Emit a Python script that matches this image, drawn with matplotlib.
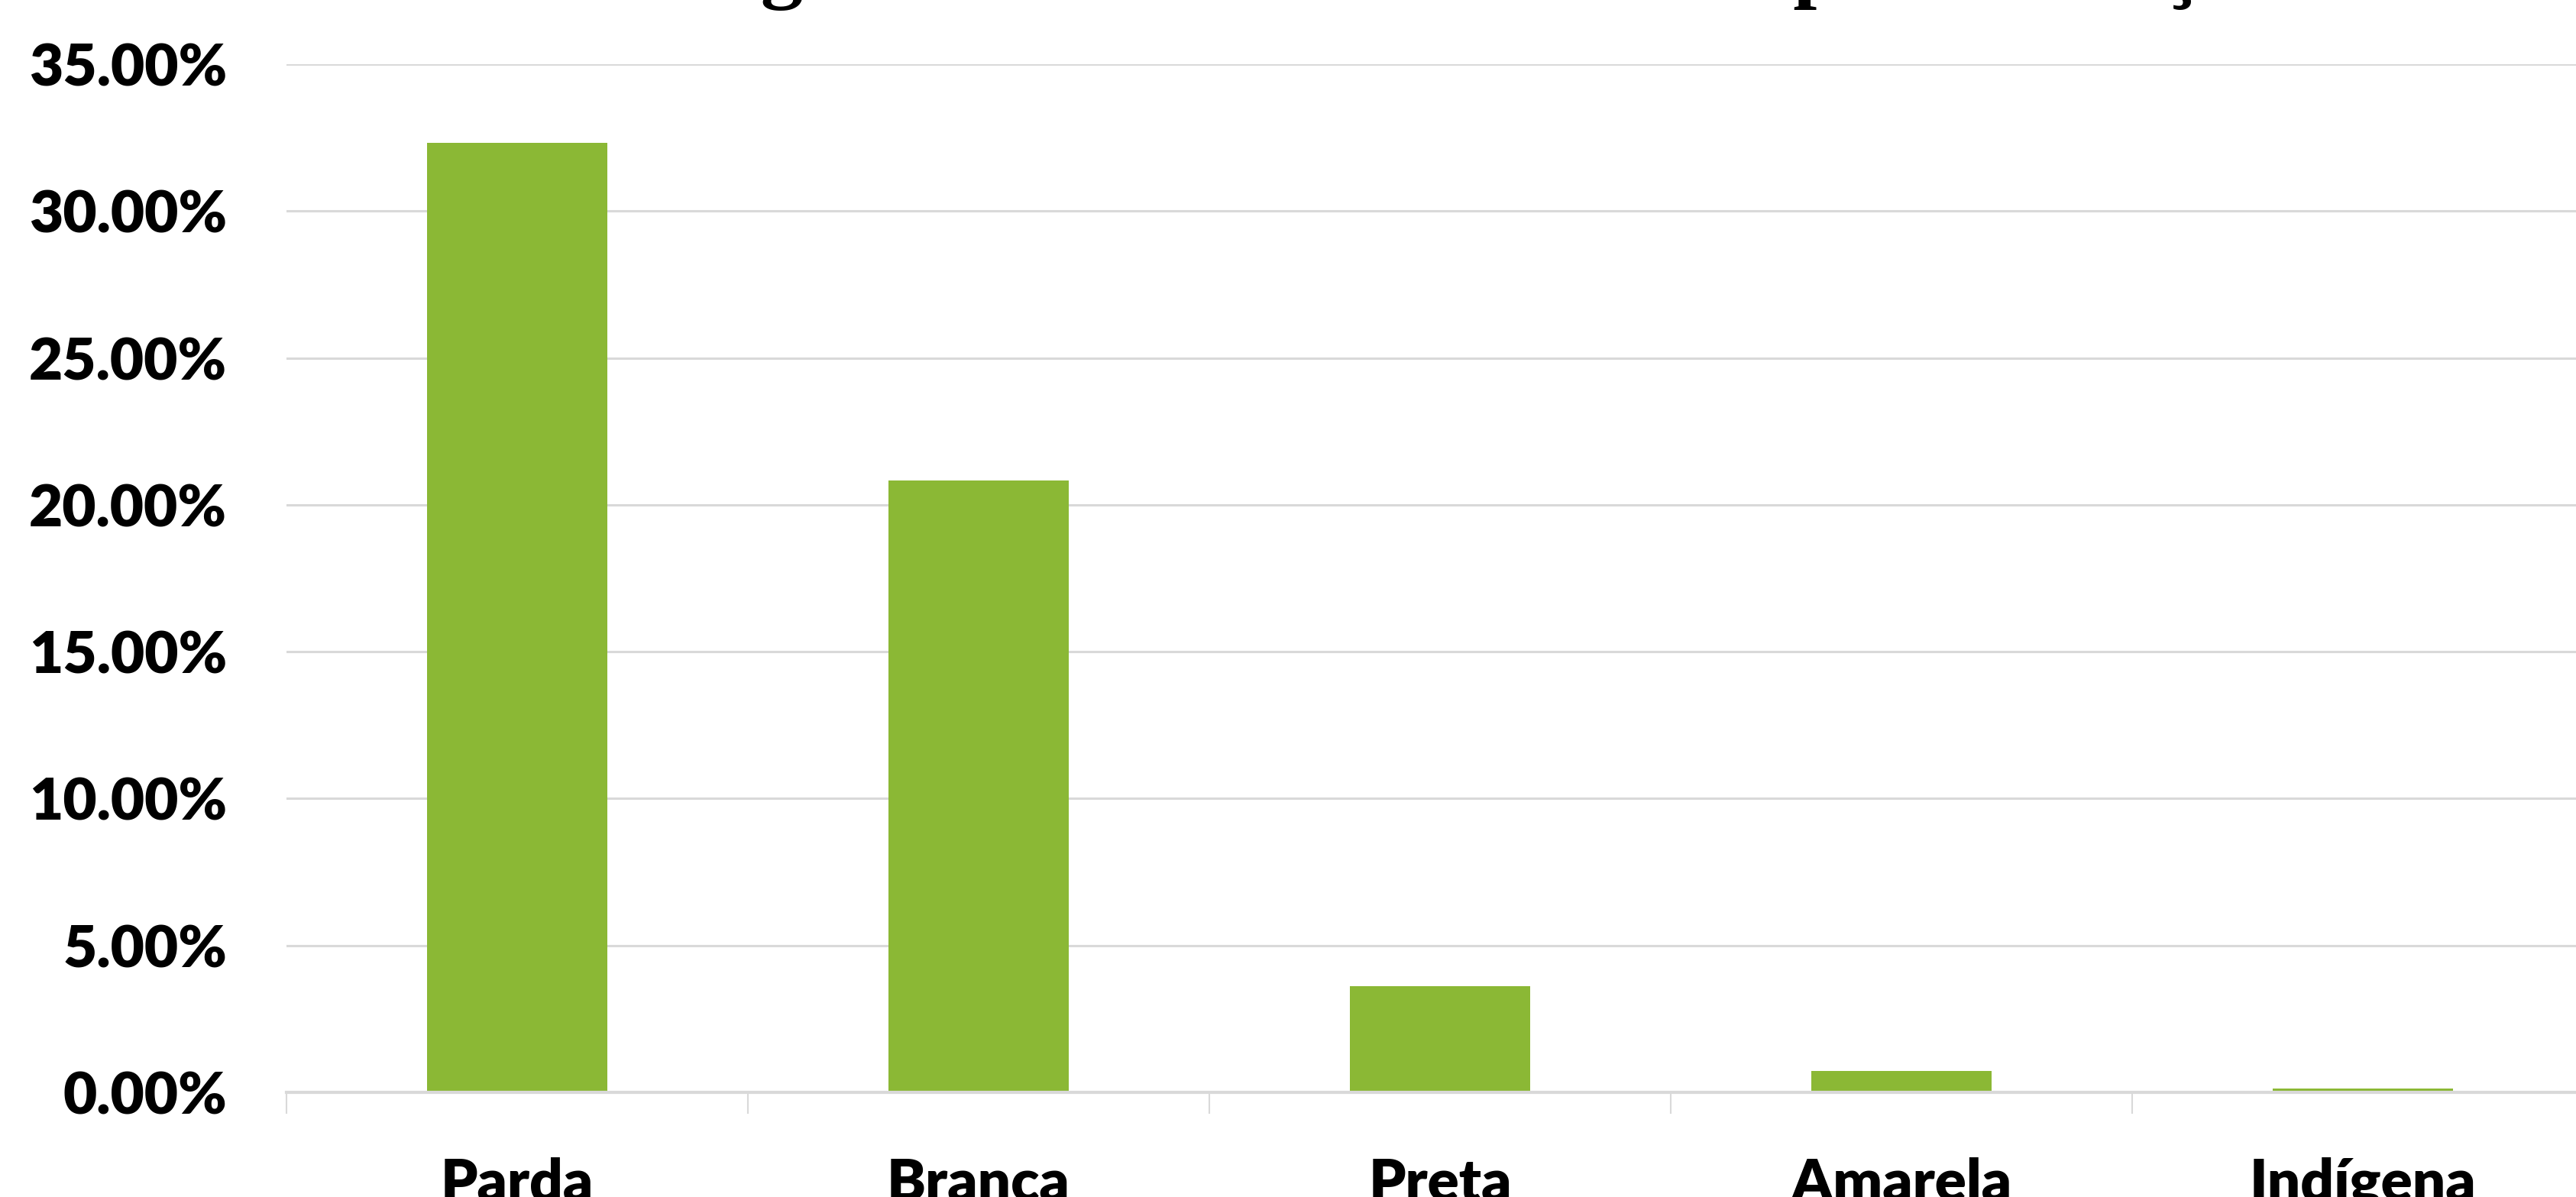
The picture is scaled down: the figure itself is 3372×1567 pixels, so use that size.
import matplotlib.pyplot as plt
from matplotlib.ticker import FuncFormatter, FixedLocator

# dados
categorias = ["Parda", "Branca", "Preta", "Amarela", "Indígena"]
percentuais = [32.32, 20.83, 3.61, 0.73, 0.13]
ticks_y = [0, 5, 10, 15, 20, 25, 30, 35]

verde = "#8bb835"
cinza = "#d9d9d9"

W, H = 3372, 1567
fig = plt.figure(figsize=(W / 100, H / 100), dpi=100)

# eixo: base em y=1430 px, topo (35%) em y=84 px, categorias de 604 px
x0, y0, y1, larg = 375, 1430, 84, 604 * 5
ax = fig.add_axes([x0 / W, (H - y0) / H, larg / W, (y0 - y1) / H])

x = range(len(categorias))
ax.bar(x, percentuais, width=0.39, color=verde, zorder=3)

ax.set_xlim(-0.5, len(categorias) - 0.5)
ax.set_ylim(0, 35)
ax.set_yticks(ticks_y)
ax.yaxis.set_major_formatter(FuncFormatter(lambda v, p: f"{v:.2f}%"))
ax.grid(axis="y", color=cinza, linewidth=2.2, zorder=0)

for s in ["top", "right", "left"]:
    ax.spines[s].set_visible(False)
ax.spines["bottom"].set_color(cinza)
ax.spines["bottom"].set_linewidth(3)
ax.spines["bottom"].set_zorder(4)

ax.set_xticks(list(x))
ax.set_xticklabels(categorias)
ax.xaxis.set_minor_locator(FixedLocator([i - 0.5 for i in range(len(categorias) + 1)]))
ax.tick_params(axis="x", which="major", length=0, pad=61)
ax.tick_params(axis="x", which="minor", length=20, width=1.5, color=cinza)
ax.tick_params(axis="y", length=0, pad=56)

for lab in ax.get_xticklabels() + ax.get_yticklabels():
    lab.set_fontfamily("Lato")
    lab.set_fontweight("heavy")
    lab.set_fontsize(55)

# titulo quase todo fora da area da figura, so as descendentes aparecem
fig.text(0.52, 1.0 + 10 / H, "Porcentagem de alunos matriculados por cor/raça",
         ha="center", va="baseline", fontsize=80, fontweight="bold",
         family="Liberation Serif")

fig.savefig("out.png", dpi=100)
